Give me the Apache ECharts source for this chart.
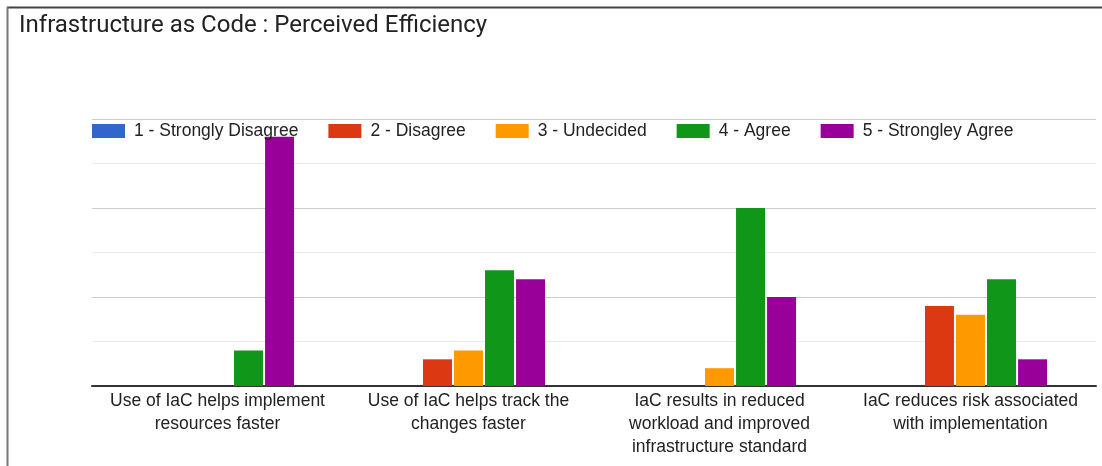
<!DOCTYPE html>
<html>
<head>
<meta charset="utf-8">
<script src="https://cdn.jsdelivr.net/npm/echarts@6/dist/echarts.min.js"></script>
<style>
  html, body { margin: 0; padding: 0; background: #fff; }
  #chart { width: 1102px; height: 466px; }
</style>
</head>
<body>
<div id="chart"></div>
<script>
const categories = [
  'Use of IaC helps implement\nresources faster',
  'Use of IaC helps track the\nchanges faster',
  'IaC results in reduced\nworkload and improved\ninfrastructure standard',
  'IaC reduces risk associated\nwith implementation'
];
const seriesNames = [
  '1 - Strongly Disagree',
  '2 - Disagree',
  '3 - Undecided',
  '4 - Agree',
  '5 - Strongley Agree'
];
const stronglyDisagree = [0, 0, 0, 0];
const disagree = [0, 3, 0, 9];
const undecided = [0, 4, 2, 8];
const agree = [4, 13, 20, 12];
const stronglyAgree = [28, 12, 10, 3];
const colors = ['#3366cc', '#dc3912', '#ff9900', '#109618', '#990099'];

const values = [stronglyDisagree, disagree, undecided, agree, stronglyAgree];

const chart = echarts.init(document.getElementById('chart'));
chart.setOption({
  animation: false,
  title: {
    text: 'Infrastructure as Code : Perceived Efficiency',
    left: 14,
    top: 9,
    textStyle: { fontFamily: 'Roboto', fontSize: 24, fontWeight: 'normal', color: '#222' }
  },
  legend: {
    left: 92,
    top: 122,
    padding: 0,
    itemWidth: 33,
    itemHeight: 14,
    itemGap: 30,
    icon: 'rect',
    textStyle: { fontFamily: 'Liberation Sans', fontSize: 17.5, color: '#222', padding: [0, 0, 0, 4] },
    data: seriesNames
  },
  grid: { left: 92, right: 6, top: 119, bottom: 80 },
  xAxis: {
    type: 'category',
    data: categories,
    axisLine: { lineStyle: { color: '#333', width: 2 } },
    axisTick: { show: false },
    axisLabel: {
      fontFamily: 'Liberation Sans',
      fontSize: 17.5,
      color: '#222',
      lineHeight: 23,
      margin: 4,
      interval: 0
    }
  },
  yAxis: {
    type: 'value',
    min: 0,
    max: 30,
    interval: 10,
    axisLabel: { show: false },
    axisLine: { show: false },
    axisTick: { show: false },
    splitLine: { lineStyle: { color: '#cccccc', width: 1 } },
    minorTick: { show: false, splitNumber: 2 },
    minorSplitLine: { show: true, lineStyle: { color: '#ebebeb', width: 1 } }
  },
  series: seriesNames.map((name, i) => ({
    name: name,
    type: 'bar',
    data: values[i],
    barWidth: 29,
    barGap: '7%',
    itemStyle: { color: colors[i] }
  })),
  graphic: [
    { type: 'line', shape: { x1: 7, y1: 7.5, x2: 1102, y2: 7.5 }, style: { stroke: '#444', lineWidth: 2 } },
    { type: 'line', shape: { x1: 7.5, y1: 7, x2: 7.5, y2: 466 }, style: { stroke: '#777', lineWidth: 2 } }
  ]
});
</script>
</body>
</html>
